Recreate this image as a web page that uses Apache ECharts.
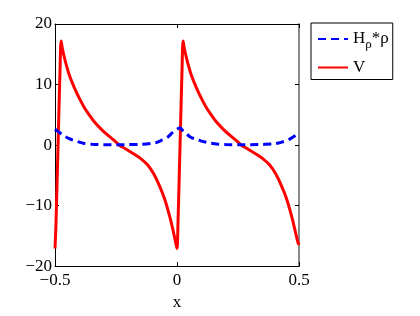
<!DOCTYPE html>
<html>
<head>
<meta charset="utf-8">
<script src="https://cdn.jsdelivr.net/npm/echarts@6/dist/echarts.min.js"></script>
<style>html,body{margin:0;padding:0;background:#fff}#c{width:420px;height:316px}</style>
</head>
<body>
<div id="c"></div>
<script>
// V (red, solid)
var xV = [-0.5,-0.496,-0.4875,-0.479,-0.475,-0.47,-0.46,-0.45,-0.44,-0.42,-0.40,-0.38,-0.36,-0.34,-0.31,-0.28,-0.25,-0.2375,-0.21,-0.18,-0.15,-0.12,-0.095,-0.07,-0.05,-0.03,-0.015,-0.005,
          0.0,0.004,0.0125,0.021,0.025,0.03,0.04,0.05,0.06,0.08,0.10,0.12,0.14,0.16,0.19,0.22,0.25,0.2625,0.29,0.32,0.35,0.38,0.405,0.43,0.45,0.47,0.485,0.495,0.5];
var yV = [-17.1,-13,0,13,17.2,16.0,14.2,12.7,11.4,9.4,7.7,6.2,5.0,3.9,2.6,1.5,0.5,0,-0.65,-1.4,-2.2,-3.3,-4.8,-6.9,-9.0,-11.8,-14.3,-16.2,
          -17.1,-13,0,13,17.2,16.0,14.2,12.7,11.4,9.4,7.7,6.2,5.0,3.9,2.6,1.5,0.5,0,-0.65,-1.4,-2.2,-3.3,-4.8,-6.9,-9.0,-11.8,-14.3,-16.0,-16.5];
// H_rho * rho (blue, dashed)
var xH = [-0.5,-0.49,-0.479,-0.46,-0.438,-0.41,-0.384,-0.35,-0.3,-0.25,-0.2,-0.15,-0.1,-0.082,-0.068,-0.04,-0.02,0.0,0.012,0.025,0.04,0.056,0.075,0.097,0.12,0.138,0.17,0.2,0.25,0.3,0.35,0.40,0.426,0.447,0.467,0.49,0.5];
var yH = [2.6,2.3,2.0,1.45,1.0,0.6,0.3,0.15,0.07,0.05,0.07,0.12,0.3,0.45,0.7,1.25,2.0,2.6,2.85,2.3,1.8,1.3,1.0,0.7,0.45,0.3,0.15,0.08,0.05,0.05,0.1,0.2,0.45,0.7,1.1,1.7,2.15];
var xTicks = [-0.5, 0, 0.5];
var yTicks = [-20, -10, 0, 10, 20];
var seriesNames = ['Hrho', 'V'];

var FONT = "'Times New Roman', 'Liberation Serif', serif";
function fmt(v){ return String(v).replace('-', '\u2212'); }
var chart = echarts.init(document.getElementById('c'), null, {renderer:'canvas'});
var axisCommon = {
  type:'value', splitLine:{show:false},
  axisLine:{show:true, onZero:false, lineStyle:{color:'#000', width:1}},
  axisTick:{show:true, inside:true, length:4, lineStyle:{color:'#000'}}
};
chart.setOption({
  animation:false,
  grid:{left:55, right:121, top:24, bottom:41, containLabel:false},
  xAxis:[
    Object.assign({}, axisCommon, {position:'bottom', min:xTicks[0], max:xTicks[xTicks.length-1], interval:0.5,
      axisLabel:{fontFamily:FONT, fontSize:17, color:'#000', margin:6, formatter:fmt},
      name:'x', nameLocation:'middle', nameGap:20, nameTextStyle:{fontFamily:FONT, fontSize:17, color:'#000'}}),
    Object.assign({}, axisCommon, {position:'top', min:xTicks[0], max:xTicks[xTicks.length-1], interval:0.5, axisLabel:{show:false}})
  ],
  yAxis:[
    Object.assign({}, axisCommon, {position:'left', min:yTicks[0], max:yTicks[yTicks.length-1], interval:10,
      axisLabel:{fontFamily:FONT, fontSize:17, color:'#000', margin:3, formatter:fmt}}),
    Object.assign({}, axisCommon, {position:'right', min:yTicks[0], max:yTicks[yTicks.length-1], interval:10, axisLabel:{show:false},
      axisLine:{show:true, onZero:false, lineStyle:{color:'#888', width:2}}})
  ],
  legend:{
    data:seriesNames, orient:'vertical', left:311, top:23, padding:[6,4,2,6],
    borderColor:'#000', borderWidth:1, itemWidth:30, itemHeight:14, itemGap:6,
    itemStyle:{opacity:0},
    textStyle:{fontFamily:FONT, fontSize:17, color:'#000', lineHeight:20,
      rich:{n:{fontFamily:FONT, fontSize:17, color:'#000'}, s:{fontFamily:FONT, fontSize:13, color:'#000', padding:[12,0,0,0]}}},
    formatter:function(n){ return n==='Hrho' ? '{n|H}{s|\u03c1}{n|*\u03c1}' : '{n|V}'; }
  },
  series:[
    {name:'Hrho', type:'line', data:xH.map(function(x,i){return [x,yH[i]];}), showSymbol:false, symbol:'none',
     smooth:0.3, lineStyle:{color:'#0000ff', width:3, type:[8,5]}, itemStyle:{color:'#0000ff'}, z:3},
    {name:'V', type:'line', data:xV.map(function(x,i){return [x,yV[i]];}), showSymbol:false, symbol:'none',
     smooth:0.35, lineStyle:{color:'#ff0000', width:3}, itemStyle:{color:'#ff0000'}, z:2}
  ]
});
</script>
</body>
</html>
